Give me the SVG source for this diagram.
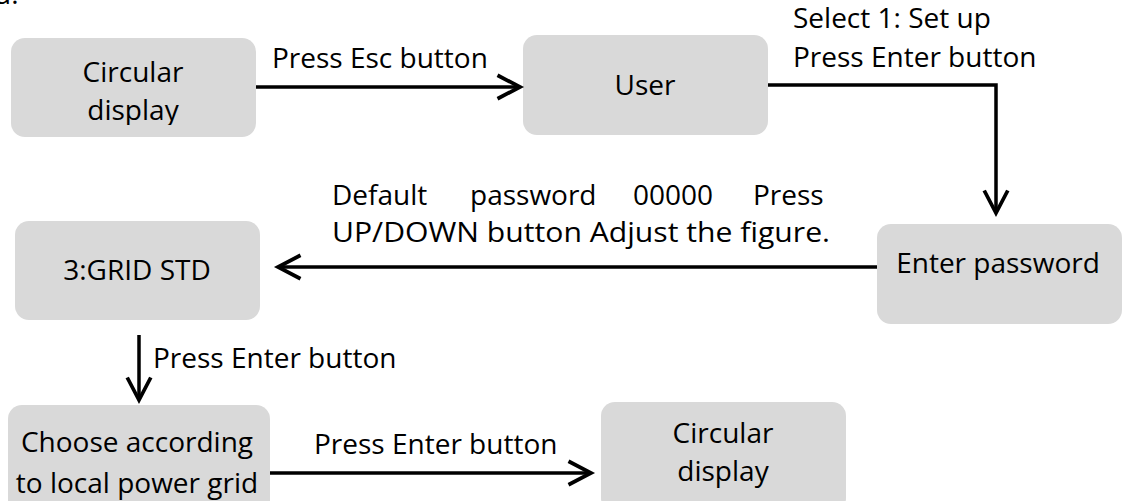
<svg xmlns="http://www.w3.org/2000/svg" width="1128" height="501" viewBox="0 0 1128 501">
<style>
.box{fill:#d9d9d9;stroke:none}
text{font-family:"Open Sans","Noto Sans","Liberation Sans",sans-serif;font-size:28px;fill:#000}
.c{text-anchor:middle}
.ln{fill:none;stroke:#000;stroke-width:3.5}
</style>
<defs>
<marker id="ah" markerUnits="userSpaceOnUse" markerWidth="30" markerHeight="30" viewBox="-24 -14 28 28" refX="0" refY="0" orient="auto" overflow="visible">
<path d="M-21,-11 L0,0 L-21,11" fill="none" stroke="#000" stroke-width="3.5"/>
</marker>
<clipPath id="cp1"><rect x="11" y="38" width="245" height="87"/></clipPath>
<clipPath id="cp2"><rect x="601" y="402" width="245" height="87"/></clipPath>
</defs>
<text x="-6" y="4">d.</text>
<g id="n1">
<rect class="box" x="11" y="38" width="245" height="99" rx="14"/>
<g clip-path="url(#cp1)"><text class="c" x="133" y="82">Circular</text><text class="c" x="133" y="120">display</text></g>
</g>
<g id="n2">
<rect class="box" x="523" y="35" width="245" height="100" rx="14"/>
<text class="c" x="645" y="95">User</text>
</g>
<g id="n3">
<rect class="box" x="877" y="224" width="245" height="100" rx="14"/>
<text class="c" x="998" y="273">Enter password</text>
</g>
<g id="n4">
<rect class="box" x="15" y="221" width="245" height="99" rx="14"/>
<text class="c" x="137" y="280">3:GRID STD</text>
</g>
<g id="n5">
<rect class="box" x="8" y="405" width="262" height="110" rx="14"/>
<text class="c" x="137" y="452">Choose according</text>
<text class="c" x="137" y="493">to local power grid</text>
</g>
<g id="n6">
<rect class="box" x="601" y="402" width="245" height="110" rx="14"/>
<g clip-path="url(#cp2)"><text class="c" x="723" y="443">Circular</text><text class="c" x="723" y="481">display</text></g>
</g>
<g id="connectors">
<path class="ln" d="M256,87 H520" marker-end="url(#ah)"/>
<path class="ln" d="M768,85 H996 V213" marker-end="url(#ah)"/>
<path class="ln" d="M877,267 H278" marker-end="url(#ah)"/>
<path class="ln" d="M139,335 V400" marker-end="url(#ah)"/>
<path class="ln" d="M270,473 H591" marker-end="url(#ah)"/>
</g>
<g id="labels">
<text x="272" y="68">Press Esc button</text>
<text x="793" y="28">Select 1: Set up</text>
<text x="793" y="67">Press Enter button</text>
<text x="332" y="205">Default</text>
<text x="470" y="205">password</text>
<text x="633" y="205">00000</text>
<text x="753" y="205">Press</text>
<text x="332" y="242" textLength="498" lengthAdjust="spacingAndGlyphs">UP/DOWN button Adjust the figure.</text>
<text x="153" y="368">Press Enter button</text>
<text x="314" y="454">Press Enter button</text>
</g>
</svg>
